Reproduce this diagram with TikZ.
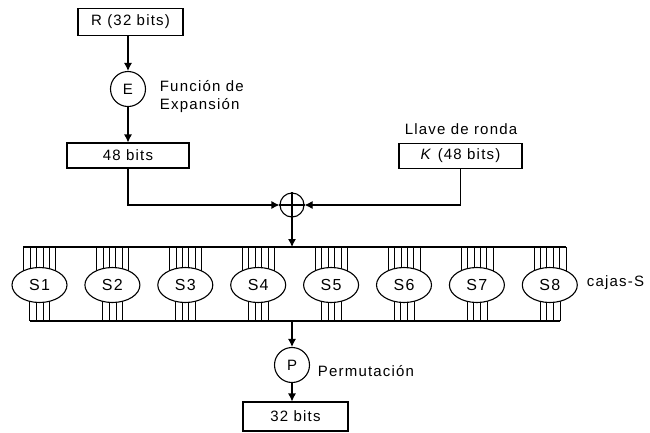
\documentclass[tikz,border=0pt]{standalone}
\usepackage{fontspec}
\setmainfont[LetterSpace=8]{Liberation Sans}
\usetikzlibrary{shapes.geometric,arrows.meta,backgrounds}

\begin{document}
\begin{tikzpicture}[
    x=1pt, y=-1pt,
    line width=1.1pt,
    every node/.style={font=\fontsize{15}{18}\selectfont},
    bitbox/.style={draw, rectangle, inner sep=0pt, minimum height=27pt},
    opcirc/.style={draw, circle, inner sep=0pt, minimum size=35pt},
    sbox/.style={draw, ellipse, fill=white, inner sep=0pt, minimum width=55pt, minimum height=35pt,
        font=\fontsize{16}{18}\selectfont},
    flow/.style={-{Latex[length=8pt,width=8pt]}}
]

    % Bounding box
    \useasboundingbox (0,0) rectangle (650,432);

    % Boxes and operators
    \node[bitbox, minimum width=105pt] (R) at (130.5,22) {R (32 bits)};
    \node[opcirc] (E) at (128,89) {E};
    \node[bitbox, minimum width=122pt, minimum height=25pt] (B48) at (128,155.5) {48 bits};
    \node[bitbox, minimum width=123pt, minimum height=25pt] (K) at (460.5,156) {\textit{K} (48 bits)};
    \node[draw, circle, inner sep=0pt, minimum size=24pt] (X) at (292,205) {};
    \node[opcirc] (P) at (292,365) {P};
    \node[bitbox, minimum width=105pt, minimum height=29pt] (B32) at (295.5,416.5) {32 bits};

    % Labels
    \node[anchor=west, align=left] (Elab) at (156,97) {Funci\'on de\\Expansi\'on};
    \node (Klab) at (461,129) {Llave de ronda};
    \node[anchor=west] (Slab) at (583,283) {cajas-S};
    \node[anchor=west] (Plab) at (314,371) {Permutaci\'on};

    % XOR cross
    \draw (X.north) -- (X.south);
    \draw (X.west) -- (X.east);

    % Buses
    \coordinate (bustl) at (23,247);
    \coordinate (bustr) at (566,247);
    \coordinate (busbl) at (30,321);
    \coordinate (busbr) at (560,321);
    \draw (bustl) -- (bustr);
    \draw (busbl) -- (busbr);

    % S-boxes with their wires
    \foreach \i in {1,...,8} {
        \node[sbox] (S\i) at ({39.5+72.9*(\i-1)},285) {S\i};
        \begin{scope}[on background layer]
            \foreach \dx in {-16,-9.6,-3.2,3.2,9.6,16}
                \draw ([xshift=\dx pt]S\i.center) -- ([xshift=\dx pt]S\i.center |- bustl);
            \foreach \dx in {-10,-3.33,3.33,10}
                \draw ([xshift=\dx pt]S\i.center) -- ([xshift=\dx pt]S\i.center |- busbl);
        \end{scope}
    }

    % Connectors
    \draw[flow] (R.south -| E) -- (E.north);
    \draw[flow] (E.south) -- (E.south |- B48.north);
    \draw[flow] (B48.south) |- (X.west);
    \draw[flow] (K.south) |- (X.east);
    \draw[flow] (X.south) -- (X |- bustl);
    \coordinate (busout) at (P |- busbl);
    \draw[flow] (busout) -- (P.north);
    \draw[flow] (P.south) -- (P.south |- B32.north);

\end{tikzpicture}
\end{document}
